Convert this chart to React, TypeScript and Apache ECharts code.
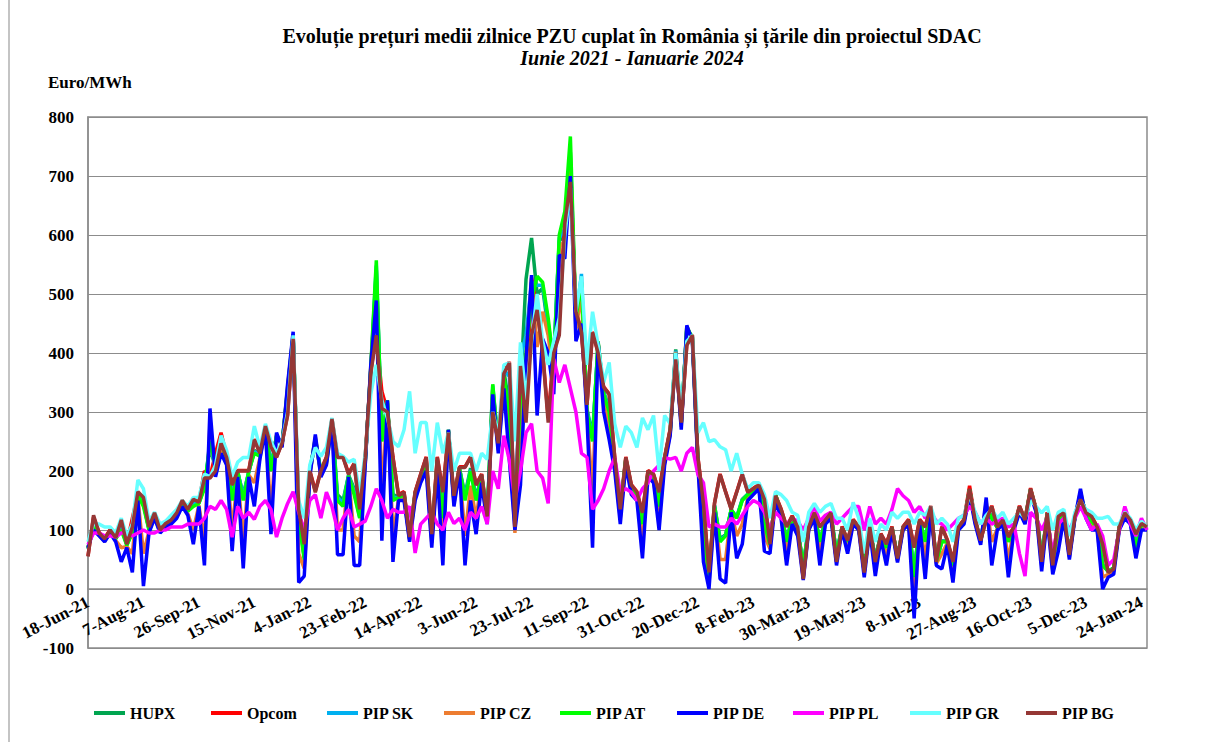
import React, { useEffect, useRef } from "react";
import * as echarts from "echarts";

const MONTHS = ["Jan", "Feb", "Mar", "Apr", "May", "Jun", "Jul", "Aug", "Sep", "Oct", "Nov", "Dec"];
const START_UTC = Date.UTC(2021, 5, 18);
const STEP_DAYS = 5;
const POINTS = 192;
const categories: string[] = Array.from({ length: POINTS }, (_, i) => {
  const d = new Date(START_UTC + i * STEP_DAYS * 86400000);
  return `${d.getUTCDate()}-${MONTHS[d.getUTCMonth()]}-${String(d.getUTCFullYear()).slice(2)}`;
});

const HUPX = [
  68,112,93,83,99,86,105,75,98,162,145,102,127,99,109,116,127,149,133,145,146,175,240,205,248,221,160,198,
  160,198,235,228,274,210,258,246,335,428,125,55,198,250,198,218,286,160,150,193,170,125,218,370,540,260,315,160,156,
  162,86,162,192,218,88,218,125,268,152,204,160,205,155,192,121,340,242,370,310,112,340,525,595,500,510,440,390,590,
  600,740,455,515,305,260,415,335,305,218,132,221,172,162,112,197,188,145,221,268,406,282,440,428,221,102,25,142,85,
  92,134,122,152,161,166,174,112,76,159,132,82,121,101,42,104,127,82,116,126,62,105,81,116,104,42,104,52,93,
  72,105,53,105,116,25,117,82,139,47,82,81,42,105,117,169,117,81,141,121,105,117,82,105,139,117,169,135,52,
  129,42,112,129,59,123,158,129,116,105,42,30,36,105,129,117,72,111,105,
];
const OPCOM = [
  56,122,96,86,101,88,116,77,120,162,152,106,128,101,112,118,128,150,136,151,148,200,190,230,265,225,178,201,
  201,201,254,231,277,242,224,248,296,425,136,77,201,166,201,224,289,224,224,196,213,136,224,370,430,335,302,224,160,
  165,89,165,195,224,94,224,165,266,159,207,207,224,177,195,124,305,248,370,385,106,380,300,528,475,402,290,402,470,
  625,695,472,436,313,436,401,343,331,224,136,224,177,165,130,201,195,165,224,271,390,283,414,431,224,146,30,146,195,
  165,136,165,195,165,171,177,153,77,159,136,106,124,106,18,106,130,106,118,130,47,106,83,118,106,29,106,47,94,
  77,106,53,106,118,71,118,106,141,47,106,83,47,106,118,175,118,83,118,141,106,118,89,106,141,118,171,136,47,
  130,41,124,130,59,124,153,130,124,106,77,29,35,106,130,118,94,112,106,
];
const PIP_SK = [
  69,111,93,83,98,86,104,75,97,161,144,101,126,99,108,116,126,148,133,144,146,174,245,206,247,220,158,199,
  158,199,233,227,273,208,259,245,338,432,123,53,199,252,199,216,285,155,146,192,165,122,216,372,548,255,318,155,155,
  161,86,161,191,216,86,216,122,269,151,204,155,202,152,191,120,345,241,372,360,111,392,430,520,515,515,450,385,595,
  610,720,458,534,303,255,418,333,303,216,131,220,171,161,111,196,186,142,220,266,404,281,442,427,220,101,22,141,82,
  91,134,121,151,160,165,174,111,75,159,131,81,121,100,41,104,127,81,115,125,61,104,80,115,104,41,103,51,92,
  71,104,52,104,115,22,116,81,138,46,81,80,41,104,116,168,116,80,140,120,104,116,81,104,138,116,168,134,51,
  128,41,111,128,58,122,159,128,115,104,41,30,35,104,128,116,71,110,104,
];
const PIP_CZ = [
  70,105,91,81,96,82,70,72,60,155,60,98,122,96,106,112,122,144,128,100,142,80,280,195,235,213,100,193,
  80,193,180,222,272,130,262,242,343,432,60,35,193,258,193,212,282,100,100,191,90,80,212,377,520,150,320,90,152,
  155,82,155,185,208,78,208,80,269,145,202,90,175,120,185,115,338,235,350,260,95,290,395,520,410,470,430,355,580,
  590,730,440,500,295,160,419,315,280,208,120,215,165,155,80,193,183,120,215,262,402,275,445,423,215,75,10,135,50,
  50,132,90,110,155,162,172,90,68,155,125,60,115,95,28,102,124,60,112,122,50,102,70,112,102,30,102,35,88,
  55,102,48,102,112,-10,113,50,134,43,60,78,25,102,113,164,113,78,148,80,102,113,50,102,134,113,164,132,40,
  124,32,90,124,54,121,165,124,108,102,20,25,30,102,124,113,62,105,102,
];
const PIP_AT = [
  70,110,92,82,98,85,100,74,95,160,140,100,125,98,108,115,125,148,132,140,145,170,250,210,250,220,150,200,
  150,200,230,225,275,200,260,245,340,430,120,50,200,255,200,215,285,150,140,192,160,120,215,375,557,250,320,150,155,
  160,85,160,190,215,85,215,120,270,150,205,150,200,150,190,120,347,240,360,300,110,330,400,490,530,520,459,380,600,
  640,767,460,520,300,250,420,330,300,215,130,220,170,160,110,195,185,140,220,265,400,280,445,425,220,100,20,140,80,
  90,135,120,150,160,165,175,110,75,160,130,80,122,100,40,105,128,80,115,125,60,104,80,115,105,40,103,50,92,
  70,104,52,104,115,20,116,80,138,46,80,80,40,104,116,168,116,80,140,120,104,116,80,104,138,116,168,134,50,
  128,40,110,128,58,122,160,128,115,104,40,30,35,104,128,116,70,110,104,
];
const PIP_DE = [
  70,100,90,80,95,80,46,70,28,150,5,95,120,95,105,110,120,140,125,76,140,40,306,190,230,210,64,190,
  35,190,140,220,270,93,265,240,347,436,11,22,190,262,190,210,280,58,58,190,40,40,210,380,489,82,320,46,150,
  150,80,150,180,200,70,200,40,270,140,200,40,150,93,180,110,330,230,340,218,100,176,390,532,294,424,400,330,566,
  560,700,420,450,290,70,418,300,253,200,110,210,160,150,52,190,180,100,210,260,400,270,447,420,210,46,0,130,17,
  10,130,52,76,150,160,170,64,60,150,120,40,110,90,15,100,120,40,110,120,40,100,60,110,100,20,100,22,85,
  40,100,45,100,110,-50,110,17,130,40,34,75,11,100,110,160,110,75,155,40,100,110,20,100,130,110,160,130,30,
  120,25,64,120,50,120,170,120,100,100,0,20,25,100,120,110,52,100,100,
];
const PIP_PL = [
  75,95,95,90,90,88,95,95,90,95,100,95,95,100,100,105,105,105,110,110,110,120,140,135,150,135,88,140,
  120,130,118,140,150,135,88,120,145,165,130,100,150,160,120,164,140,100,120,135,105,110,115,140,170,150,120,135,130,
  130,140,61,110,120,130,110,100,130,111,120,100,130,120,140,110,200,170,260,218,150,200,265,280,200,188,145,390,350,
  380,340,300,230,223,135,150,170,200,223,164,170,164,150,170,180,200,210,223,220,223,200,230,240,194,180,105,110,105,
  105,120,110,125,140,150,145,130,100,130,120,110,120,115,100,120,140,115,125,130,110,120,130,140,140,100,140,110,120,
  110,135,170,158,150,130,140,120,130,115,110,100,110,120,125,140,130,110,120,110,115,120,105,110,60,22,130,120,100,
  120,60,110,120,100,120,140,120,100,110,90,40,50,100,140,110,90,120,100,
];
const PIP_GR = [
  80,110,110,105,105,95,120,90,110,185,170,115,130,110,115,125,135,150,140,155,155,195,190,210,260,235,190,215,
  223,223,276,240,280,250,230,250,300,430,150,120,210,240,225,240,290,230,225,215,220,160,230,330,380,320,290,250,241,
  270,335,230,282,282,200,282,230,265,200,230,230,230,200,230,220,300,260,380,383,250,418,320,420,500,420,380,420,460,
  600,680,470,530,380,470,413,350,384,280,240,276,265,240,290,270,294,200,294,280,400,300,420,430,265,282,250,253,241,
  236,200,230,194,170,180,180,160,120,165,160,150,130,125,80,130,145,130,140,145,120,120,100,147,120,60,120,80,110,
  100,130,120,130,130,110,130,125,140,110,120,110,80,120,125,160,130,110,125,135,120,130,110,120,130,120,150,140,129,
  140,100,130,135,90,130,150,135,130,120,120,123,110,110,130,120,100,115,105,
];
const PIP_BG = [
  55,125,95,85,100,87,117,76,105,165,155,105,129,100,111,117,129,150,135,152,147,188,188,200,247,223,176,200,
  200,200,253,230,276,241,223,247,294,424,135,76,200,164,200,223,288,223,223,194,212,135,223,365,430,306,300,223,158,
  164,88,164,194,223,93,223,164,265,158,206,206,223,176,194,123,300,247,365,383,105,378,282,430,473,400,282,400,430,
  620,690,470,435,312,435,400,342,330,223,135,223,176,164,129,200,194,164,223,270,389,282,413,430,223,145,28,145,194,
  164,135,164,194,164,170,176,152,76,158,135,105,123,105,17,105,129,105,117,129,46,105,82,117,105,28,105,46,93,
  76,105,52,105,117,70,117,105,140,46,105,82,46,105,117,170,117,82,117,140,105,117,88,105,140,117,170,135,46,
  129,40,123,129,58,123,152,129,123,105,76,28,34,105,129,117,93,111,105,
];

const SERIES_NAMES = ["HUPX", "Opcom", "PIP SK", "PIP CZ", "PIP AT", "PIP DE", "PIP PL", "PIP GR", "PIP BG"];
const SERIES_DATA = [HUPX, OPCOM, PIP_SK, PIP_CZ, PIP_AT, PIP_DE, PIP_PL, PIP_GR, PIP_BG];
const SERIES_COLORS = ["#00A550", "#FF0000", "#00B0F0", "#ED7D31", "#00FF00", "#0000FF", "#FF00FF", "#66FFFF", "#953735"];

const TITLE = "Evoluție prețuri medii zilnice PZU cuplat în România și țările din proiectul SDAC";
const SUBTITLE = "Iunie 2021 - Ianuarie 2024";
const Y_UNIT = "Euro/MWh";

const FONT = "'Liberation Serif', 'Times New Roman', serif";

export default function App() {
  const ref = useRef<HTMLDivElement>(null);
  useEffect(() => {
    if (!ref.current) return;
    const chart = echarts.init(ref.current, undefined, { renderer: "svg" });
    chart.setOption({
      animation: false,
      backgroundColor: "#ffffff",
      title: [
        {
          text: TITLE,
          left: 627,
          top: 21,
          textAlign: "center",
          textStyle: { fontFamily: FONT, fontWeight: "bold", fontSize: 20, color: "#000" },
        },
        {
          text: SUBTITLE,
          left: 627,
          top: 43,
          textAlign: "center",
          textStyle: { fontFamily: FONT, fontWeight: "bold", fontStyle: "italic", fontSize: 20, color: "#000" },
        },
      ],
      graphic: [
        { type: "line", shape: { x1: 9, y1: 0, x2: 9, y2: 742 }, style: { stroke: "#b0b0b0", lineWidth: 1.5 } },
        {
          type: "text",
          x: 48,
          y: 82,
          style: { text: Y_UNIT, fontFamily: FONT, fontWeight: "bold", fontSize: 17, fill: "#000", verticalAlign: "middle" },
        },
      ],
      legend: SERIES_NAMES.map((name, k) => ({
        data: [name],
        left: Math.round(94 + 116.5 * k),
        top: 705,
        padding: 0,
        icon: "rect",
        itemWidth: 31,
        itemHeight: 4,
        textStyle: { fontFamily: FONT, fontWeight: "bold", fontSize: 16, color: "#000" },
      })),
      grid: { left: 88, right: 76, top: 117, bottom: 94, show: true, borderColor: "#8c8c8c", borderWidth: 1.5 },
      xAxis: {
        type: "category",
        data: categories,
        boundaryGap: false,
        offset: -59,
        axisLine: { onZero: false, lineStyle: { color: "#8c8c8c", width: 1.5 } },
        axisTick: { show: false },
        axisLabel: {
          interval: 9,
          rotate: 27,
          margin: 12,
          fontFamily: FONT,
          fontWeight: "bold",
          fontSize: 17,
          color: "#000",
        },
        splitLine: { show: false },
      },
      yAxis: {
        type: "value",
        min: -100,
        max: 800,
        interval: 100,
        axisLine: { show: true, lineStyle: { color: "#8c8c8c", width: 1.5 } },
        axisTick: { show: false },
        axisLabel: { margin: 14, fontFamily: FONT, fontWeight: "bold", fontSize: 17, color: "#000" },
        splitLine: { lineStyle: { color: "#8c8c8c", width: 1 } },
      },
      series: SERIES_NAMES.map((name, k) => ({
        name,
        type: "line",
        data: SERIES_DATA[k],
        showSymbol: false,
        symbol: "none",
        lineStyle: { width: 3.5, color: SERIES_COLORS[k] },
        itemStyle: { color: SERIES_COLORS[k] },
        emphasis: { disabled: true },
        z: 2 + k,
      })),
    });
    return () => chart.dispose();
  }, []);
  return (
    <div
      ref={ref}
      style={{ position: "fixed", left: 0, top: 0, width: 1223, height: 742, background: "#fff" }}
    />
  );
}
